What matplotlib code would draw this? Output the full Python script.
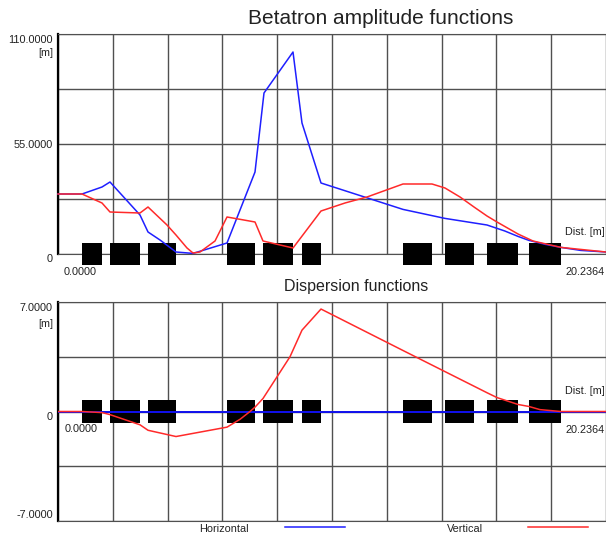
import matplotlib
matplotlib.use("Agg")
import matplotlib.pyplot as plt
from matplotlib.lines import Line2D
import numpy as np

plt.rcParams['font.family'] = ['Liberation Sans', 'DejaVu Sans']

# lattice length [m]
L = 20.2364

# beta functions (top panel)
s_bx = [0, 0.886, 1.625, 1.920, 3.028, 3.324, 3.767, 4.357, 4.985, 6.241, 7.275, 7.607,
        8.678, 9.010, 9.712, 12.740, 14.291, 15.842, 16.5, 16.987, 17.393, 18.0, 18.575, 19.3, L]
beta_x = [30, 30, 33.5, 36, 19.5, 11, 7, 1, 0.3, 5.5, 41, 80.5,
          101, 65.5, 35.5, 22.3, 17.8, 14.5, 11.5, 8.8, 6.8, 4.8, 3.3, 1.8, 1.0]

s_by = [0, 0.886, 1.625, 1.920, 3.028, 3.324, 4.025, 4.357, 4.764, 4.985, 5.244, 5.798, 6.241,
        7.275, 7.570, 8.678, 9.712, 10.598, 11.411, 12.740, 13.811, 14.291, 14.845, 15.362,
        15.842, 16.211, 16.987, 17.541, 18.575, L]
beta_y = [30, 30, 25.5, 21, 20.5, 23.5, 14.5, 9.5, 3, 0.5, 1, 6.5, 18.5,
          16, 6.5, 3, 21.5, 25.5, 28.5, 35, 35, 33, 28.5, 23.5,
          19, 16, 10, 6.5, 3.3, 1.0]

# dispersion functions (bottom panel)
s_dx = [0, 0.886, 1.625, 1.920, 3.028, 3.324, 4.357, 6.241, 6.721, 7.090, 7.275, 7.570,
        8.567, 9.010, 9.712, 12.740, 15.842, 16.211, 16.987, 17.393, 17.8, 18.575, L]
disp_x = [0, 0, -0.07, -0.2, -0.85, -1.2, -1.6, -1.0, -0.5, 0.0, 0.28, 0.83,
          3.5, 5.2, 6.55, 3.9, 1.2, 0.89, 0.45, 0.32, 0.12, 0.0, 0.0]
s_dy = [0, L]
disp_y = [0, 0]

# magnet positions (start, end) [m]
magnets = [(0.886, 1.625), (1.920, 3.028), (3.324, 4.357), (6.241, 7.275), (7.570, 8.678),
           (9.010, 9.712), (12.740, 13.811), (14.291, 15.362), (15.842, 16.987), (17.393, 18.575)]

W, H = 606, 534
fig = plt.figure(figsize=(W / 100, H / 100), dpi=100)


def fx(x):
    return x / W


def fy(y):
    return 1 - y / H


blue = '#1f1fff'
red = '#ff2a2a'
txt = '#222222'


def setup(ax, ymin, ymax):
    ax.set_xlim(0, L)
    ax.set_ylim(ymin, ymax)
    ax.set_xticks(np.linspace(0, L, 11))
    ax.set_yticks(np.linspace(ymin, ymax, 5))
    ax.grid(True, color='#505050', lw=1.0)
    ax.set_axisbelow(True)
    ax.tick_params(length=0, labelbottom=False, labelleft=False)
    ax.spines['right'].set_visible(False)
    for k in ('top', 'bottom'):
        ax.spines[k].set_color('#505050')
    ax.spines['left'].set_color('black')
    ax.spines['left'].set_linewidth(1.6)


# top panel: beta functions
ax1 = fig.add_axes([fx(58), fy(254), fx(548), 220 / H])
setup(ax1, 0, 110)
ax1.broken_barh([(a, b - a) for a, b in magnets], (-5.5, 11), facecolor='black',
                clip_on=False, zorder=3)
ax1.plot(s_bx, beta_x, color=blue, lw=1.1, zorder=4, clip_on=False)
ax1.plot(s_by, beta_y, color=red, lw=1.1, zorder=5, clip_on=False)

# bottom panel: dispersion
ax2 = fig.add_axes([fx(58), fy(521), fx(548), 219 / H])
setup(ax2, -7, 7)
ax2.broken_barh([(a, b - a) for a, b in magnets], (-0.76, 1.52), facecolor='black', zorder=3)
ax2.plot(s_dy, disp_y, color='#1010ee', lw=1.4, zorder=4)
ax2.plot(s_dx, disp_x, color=red, lw=1.1, zorder=5)

# titles
fig.text(fx(381), fy(18), 'Betatron amplitude functions', ha='center', va='center',
         fontsize=15, color=txt)
fig.text(fx(356), fy(287), 'Dispersion functions', ha='center', va='center',
         fontsize=11.5, color=txt)

fs = 7.8
# y labels
for x, y, s in [(53, 40, '110.0000'), (53, 53, '[m]'), (53, 145, '55.0000'), (53, 259, '0'),
                (53, 308, '7.0000'), (53, 324, '[m]'), (53, 417, '0'), (53, 515, '-7.0000')]:
    fig.text(fx(x), fy(y), s, ha='right', va='center', fontsize=fs, color=txt)

# distance labels
for x, y, s in [(64, 272, '0.0000'), (65, 429, '0.0000')]:
    fig.text(fx(x), fy(y), s, ha='left', va='center', fontsize=fs, color=txt)
for y, s in [(232, 'Dist. [m]'), (272, '20.2364'), (391, 'Dist. [m]'), (430, '20.2364')]:
    fig.text(fx(605), fy(y), s, ha='right', va='center', fontsize=fs, color=txt)

# legend
fig.text(fx(199), fy(529), 'Horizontal', ha='left', va='center', fontsize=fs, color=txt)
fig.add_artist(Line2D([fx(285), fx(345)], [fy(527), fy(527)], color=blue, lw=1.1,
                      transform=fig.transFigure))
fig.text(fx(447), fy(529), 'Vertical', ha='left', va='center', fontsize=fs, color=txt)
fig.add_artist(Line2D([fx(528), fx(588)], [fy(527), fy(527)], color=red, lw=1.1,
                      transform=fig.transFigure))

fig.savefig('out.png', dpi=100)
